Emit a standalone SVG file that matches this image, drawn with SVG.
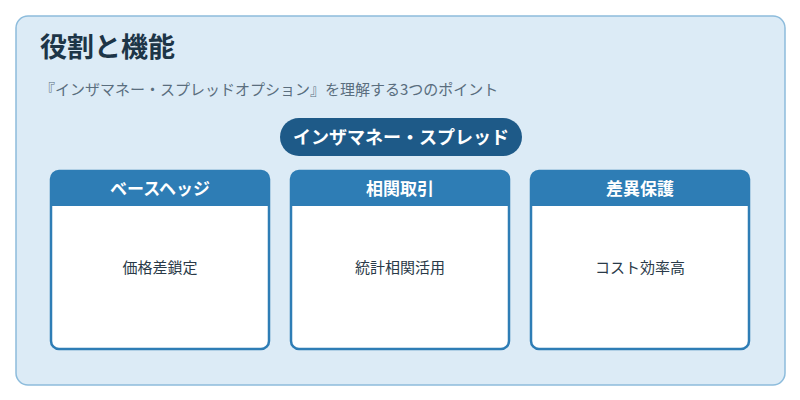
<svg xmlns="http://www.w3.org/2000/svg" width="800" height="400" viewBox="0 0 800 400">
<style>
text{font-family:"Noto Sans CJK JP","Noto Sans",sans-serif}
.card{fill:#ffffff;stroke:#2e7db5;stroke-width:2.5}
.hdr{fill:#2e7db5}
.ht{fill:#ffffff;font-size:17px;font-weight:bold;text-anchor:middle}
.bt{fill:#2a3a48;font-size:15px;text-anchor:middle}
</style>
<rect x="16" y="16" width="769" height="369" rx="12" fill="#dcebf6" stroke="#8dbcdc" stroke-width="1.5"/>
<text x="40" y="57" font-size="27" font-weight="bold" fill="#1d3547">役割と機能</text>
<text x="40" y="95" font-size="15" fill="#5a6e7e">『インザマネー・スプレッドオプション』を理解する3つのポイント</text>
<g id="pill">
<rect x="280" y="118" width="242" height="38" rx="19" fill="#1e5a88"/>
<text x="401" y="144" font-size="18" font-weight="bold" fill="#ffffff" text-anchor="middle">インザマネー・スプレッド</text>
</g>
<g id="card1">
<rect class="card" x="51" y="171" width="218" height="178" rx="8"/>
<path class="hdr" d="M51 206V179a8 8 0 0 1 8-8H261a8 8 0 0 1 8 8V206Z"/>
<text class="ht" x="160" y="195">ベースヘッジ</text>
<text class="bt" x="160" y="273">価格差鎖定</text>
</g>
<g id="card2">
<rect class="card" x="291" y="171" width="218" height="178" rx="8"/>
<path class="hdr" d="M291 206V179a8 8 0 0 1 8-8H501a8 8 0 0 1 8 8V206Z"/>
<text class="ht" x="400" y="195">相関取引</text>
<text class="bt" x="400" y="273">統計相関活用</text>
</g>
<g id="card3">
<rect class="card" x="531" y="171" width="218" height="178" rx="8"/>
<path class="hdr" d="M531 206V179a8 8 0 0 1 8-8H741a8 8 0 0 1 8 8V206Z"/>
<text class="ht" x="640" y="195">差異保護</text>
<text class="bt" x="640" y="273">コスト効率高</text>
</g>
<g id="connectors"/>
</svg>
